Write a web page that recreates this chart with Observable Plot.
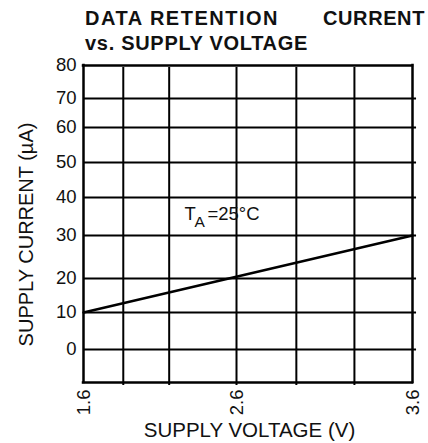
<!DOCTYPE html>
<html>
<head>
<meta charset="utf-8">
<script src="https://cdn.jsdelivr.net/npm/d3@7"></script>
<script src="https://cdn.jsdelivr.net/npm/@observablehq/plot@0.6"></script>
<style>
  html, body { margin: 0; padding: 0; background: #fff; }
  #wrap { position: relative; width: 428px; height: 443px; overflow: hidden; }
  .ttl { position: absolute; font-family: "Liberation Sans", Arial, sans-serif; font-weight: bold;
         font-size: 20px; line-height: 20px; color: #111; white-space: nowrap; }
</style>
</head>
<body>
<div id="wrap">
  <div class="ttl" style="left:85px;top:8px;letter-spacing:1.5px">DATA RETENTION</div>
  <div class="ttl" style="left:323px;top:8px;letter-spacing:0.6px">CURRENT</div>
  <div class="ttl" style="left:85px;top:33px;letter-spacing:0.7px">vs. SUPPLY VOLTAGE</div>
</div>
<script>
// Data
const voltage = [1.6, 3.6];          // V
const current = [10, 30];            // µA
const yTicks = [0, 10, 20, 30, 40, 50, 60, 70, 80];
const yGrid = [0, 10, 20, 30, 40, 50, 60, 70];
const xTickLabels = [1.6, 2.6, 3.6];
const xGrid = [1.86, 2.16, 2.6, 2.94, 3.27];
const annotation = {x: 2.26, y: 34.2};

const table = voltage.map((v, i) => ({v, c: current[i]}));
const font = '"Liberation Sans", Arial, sans-serif';

const chart = Plot.plot({
  width: 428,
  height: 443,
  marginLeft: 0, marginRight: 0, marginTop: 0, marginBottom: 0,
  style: {fontFamily: font, color: "#111", background: "transparent"},
  x: {type: "linear", domain: [1.6, 2.6, 3.6], range: [83, 236, 412], axis: null},
  y: {type: "linear", domain: [-10, 0, 10, 20, 30, 40, 50, 60, 70, 80],
      range: [382, 349, 312, 278, 235, 197, 162, 127, 98, 65], axis: null},
  marks: [
    // horizontal grid lines (extend slightly past right frame)
    Plot.ruleY(yGrid, {y: d => d, x1: 1.6, x2: 3.623, stroke: "#000", strokeWidth: 2}),
    // vertical grid lines
    Plot.ruleX(xGrid, {x: d => d, y1: -10.9, y2: 79.4, stroke: "#000", strokeWidth: 2}),
    // frame
    Plot.ruleY([-10, 80], {y: d => d, x1: 1.6, x2: 3.6, stroke: "#000", strokeWidth: 2.5, strokeLinecap: "square"}),
    Plot.ruleX([1.6, 3.6], {x: d => d, y1: -10, y2: 80, stroke: "#000", strokeWidth: 2.5, strokeLinecap: "square"}),
    // data line
    Plot.line(table, {x: "v", y: "c", stroke: "#000", strokeWidth: 2.5}),
    // y tick labels
    Plot.text(yTicks, {x: 1.6, y: d => d, text: d => String(d), textAnchor: "end", lineAnchor: "middle",
      dx: -7, fontSize: 18.5, fill: "#111"}),
    // x tick labels (rotated)
    Plot.text(xTickLabels, {x: d => d, y: -10, text: d => d.toFixed(1), rotate: -90, textAnchor: "end",
      lineAnchor: "middle", dx: 1, dy: 7, fontSize: 18.5, fill: "#111"}),
    // axis titles
    Plot.text(["SUPPLY VOLTAGE (V)"], {frameAnchor: "top-left", dx: 249, dy: 436, text: d => d,
      textAnchor: "middle", lineAnchor: "bottom", fontSize: 20.5, fill: "#111"}),
    Plot.text(["SUPPLY CURRENT (\u00b5A)"], {frameAnchor: "top-left", dx: 32, dy: 234, text: d => d,
      rotate: -90, textAnchor: "middle", lineAnchor: "bottom", fontSize: 20, fill: "#111"}),
    // annotation T_A=25°C
    Plot.text([annotation], {x: "x", y: "y", text: () => "T", textAnchor: "start", lineAnchor: "bottom",
      fontSize: 18.5, fill: "#111"}),
    Plot.text([annotation], {x: "x", y: "y", text: () => "A", textAnchor: "start", lineAnchor: "bottom",
      dx: 10, dy: 7, fontSize: 15.5, fill: "#111"}),
    Plot.text([annotation], {x: "x", y: "y", text: () => "=25\u00b0C", textAnchor: "start", lineAnchor: "bottom",
      dx: 23, fontSize: 18.5, fill: "#111"})
  ]
});
chart.style.position = "absolute";
chart.style.left = "0px";
chart.style.top = "0px";
document.getElementById("wrap").prepend(chart);
</script>
</body>
</html>
